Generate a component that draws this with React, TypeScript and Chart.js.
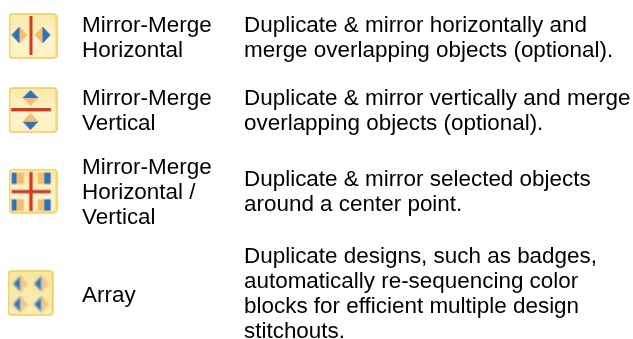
import React, { useEffect, useRef } from "react";
import { Chart, registerables } from "chart.js";

Chart.register(...registerables);

const W = 633;
const H = 339;
const FONT = '22.45px "Liberation Sans", Arial, sans-serif';

const iconKinds = ["h", "v", "hv", "array"];
const names = [
  ["Mirror-Merge", "Horizontal"],
  ["Mirror-Merge", "Vertical"],
  ["Mirror-Merge", "Horizontal /", "Vertical"],
  ["Array"],
];
const descriptions = [
  ["Duplicate & mirror horizontally and", "merge overlapping objects (optional)."],
  ["Duplicate & mirror vertically and merge", "overlapping objects (optional)."],
  ["Duplicate & mirror selected objects", "around a center point."],
  [
    "Duplicate designs, such as badges,",
    "automatically re-sequencing color",
    "blocks for efficient multiple design",
    "stitchouts.",
  ],
];
const iconX = [33, 33, 33, 30.5];
const iconY = [36, 110, 191, 293];
const nameFirstBaseline = [32, 105, 174, 302];
const descFirstBaseline = [32, 105, 186, 263];
const nameX = 82;
const descX = 244;
const lineStep = 25;

function rr(c: CanvasRenderingContext2D, x: number, y: number, w: number, h: number, r: number) {
  c.beginPath();
  c.moveTo(x + r, y);
  c.arcTo(x + w, y, x + w, y + h, r);
  c.arcTo(x + w, y + h, x, y + h, r);
  c.arcTo(x, y + h, x, y, r);
  c.arcTo(x, y, x + w, y, r);
  c.closePath();
}

function diamond(c: CanvasRenderingContext2D, cx: number, cy: number, rx: number, ry: number, dir: string, a: string, b: string) {
  c.fillStyle = a;
  c.beginPath();
  if (dir === "l" || dir === "r") {
    const s = dir === "l" ? -1 : 1;
    c.moveTo(cx, cy - ry); c.lineTo(cx + s * rx, cy); c.lineTo(cx, cy + ry);
    c.closePath(); c.fill();
    c.fillStyle = b;
    c.beginPath();
    c.moveTo(cx, cy - ry); c.lineTo(cx - s * rx, cy); c.lineTo(cx, cy + ry);
  } else {
    const s = dir === "u" ? -1 : 1;
    c.moveTo(cx - rx, cy); c.lineTo(cx, cy + s * ry); c.lineTo(cx + rx, cy);
    c.closePath(); c.fill();
    c.fillStyle = b;
    c.beginPath();
    c.moveTo(cx - rx, cy); c.lineTo(cx, cy - s * ry); c.lineTo(cx + rx, cy);
  }
  c.closePath(); c.fill();
}

function makeIcon(kind: string) {
  const w = kind === "array" ? 46 : 49;
  const h = kind === "hv" ? 45 : 46;
  const cv = document.createElement("canvas");
  cv.width = w; cv.height = h;
  const c = cv.getContext("2d")!;
  c.filter = "blur(0.6px)";
  const g = c.createLinearGradient(0, 0, 0, h);
  if (kind === "array") {
    g.addColorStop(0, "#f9e7a0");
    g.addColorStop(1, "#fbeeb4");
  } else {
    g.addColorStop(0, "#fbe9a9");
    g.addColorStop(0.6, "#fdf3cf");
    g.addColorStop(1, "#fdf0c0");
  }
  rr(c, 1, 1, w - 2, h - 2, 3);
  c.fillStyle = g; c.fill();
  c.lineWidth = 1.6; c.strokeStyle = "#f2cd5a"; c.stroke();
  const B = "#2f72b8", O = "#f5bd70", R = "#cf3b1c";
  if (kind === "h") {
    diamond(c, 11, 22, 8, 8.5, "l", B, O);
    diamond(c, 34, 22, 8, 8.5, "r", B, O);
    c.fillStyle = R; c.fillRect(21, 3, 3, 39);
  } else if (kind === "v") {
    diamond(c, 22, 11, 8, 8, "u", B, O);
    diamond(c, 22, 34.5, 8, 8.5, "d", B, O);
    c.fillStyle = R; c.fillRect(2.5, 21, 40, 3.4);
  } else if (kind === "hv") {
    c.fillStyle = B;
    c.fillRect(3.2, 4.2, 5, 11.3); c.fillRect(35.5, 4.2, 6.7, 11.3);
    c.fillRect(3.2, 30.8, 5, 11.4); c.fillRect(35.5, 30.8, 6.7, 11.4);
    c.fillStyle = O;
    c.fillRect(8.2, 4.2, 7.3, 11.3); c.fillRect(29.2, 4.2, 6.3, 11.3);
    c.fillRect(8.2, 30.8, 7.3, 11.4); c.fillRect(29.2, 30.8, 6.3, 11.4);
    c.fillStyle = R;
    c.fillRect(20.8, 3.5, 3.4, 39); c.fillRect(3.2, 21.5, 39, 3.3);
  } else {
    c.filter = "blur(1px)";
    for (const y of [13.8, 34.2]) {
      diamond(c, 13.2, y, 7.5, 8, "l", B, "#f3c489");
      diamond(c, 34.2, y, 7.5, 8, "l", B, "#f3c489");
    }
  }
  return cv;
}

const textPlugin = {
  id: "rowText",
  afterDatasetsDraw(chart: any) {
    const { ctx, scales } = chart;
    ctx.save();
    ctx.font = FONT;
    ctx.fillStyle = "#000000";
    ctx.textBaseline = "alphabetic";
    const drawBlock = (lines: string[], x: number, first: number) => {
      lines.forEach((t, i) => {
        ctx.fillText(t, scales.x.getPixelForValue(x), scales.y.getPixelForValue(first + i * lineStep));
      });
    };
    names.forEach((n, i) => drawBlock(n, nameX, nameFirstBaseline[i]));
    descriptions.forEach((d, i) => drawBlock(d, descX, descFirstBaseline[i]));
    ctx.restore();
  },
};

export default function App() {
  const ref = useRef<HTMLCanvasElement>(null);
  useEffect(() => {
    const chart = new Chart(ref.current!, {
      type: "scatter",
      data: {
        datasets: [
          {
            data: iconKinds.map((_, i) => ({ x: iconX[i], y: iconY[i] })),
            pointStyle: iconKinds.map(makeIcon) as any,
            pointRadius: 10,
            clip: false,
          },
        ],
      },
      options: {
        animation: false,
        responsive: false,
        layout: { padding: 0, autoPadding: false },
        plugins: { legend: { display: false }, tooltip: { enabled: false } },
        scales: {
          x: { type: "linear", display: false, min: 0, max: W },
          y: { type: "linear", display: false, min: 0, max: H, reverse: true },
        },
      },
      plugins: [textPlugin],
    });
    return () => chart.destroy();
  }, []);
  return (
    <canvas
      ref={ref}
      width={W}
      height={H}
      style={{ position: "fixed", left: 0, top: 0, width: W, height: H, background: "#fff" }}
    />
  );
}
